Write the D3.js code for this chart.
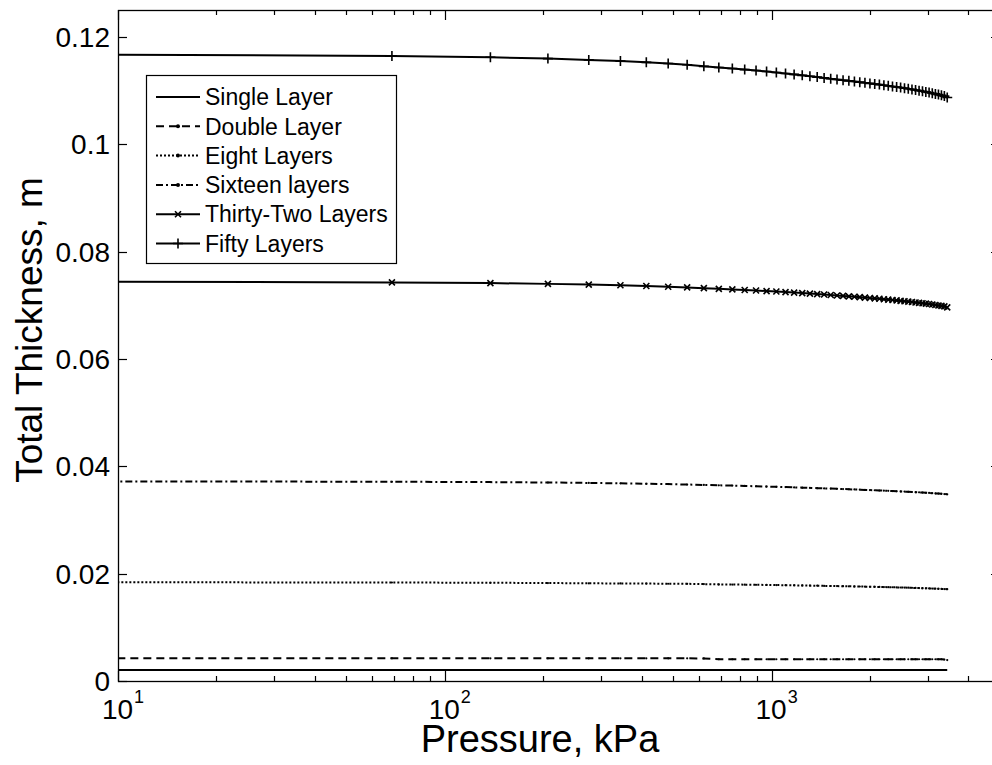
<!DOCTYPE html>
<meta charset="utf-8">
<title>Total Thickness vs Pressure</title>
<style>
  body { margin: 0; background: #fff; }
  svg { display: block; font-family: "Liberation Sans", Arial, sans-serif; }
  .lbl { font-size: 28px; fill: #000; }
  .sup { font-size: 18px; fill: #000; }
  .title { font-size: 38px; fill: #000; }
  .ytitle { font-size: 37px; fill: #000; }
  .leg { font-size: 23px; fill: #000; }
</style>
<body>
<svg id="chart" width="992" height="765"></svg>
<script src="https://cdn.jsdelivr.net/npm/d3@7"></script>
<script>

// pressure, kPa (10 psi steps, first point 1 psi)
var pressure = [6.9, 68.9, 137.9, 206.8, 275.8, 344.7, 413.7, 482.6, 551.6, 620.5,
  689.5, 758.4, 827.4, 896.3, 965.3, 1034.2, 1103.2, 1172.1, 1241.1, 1310.0,
  1379.0, 1447.9, 1516.8, 1585.8, 1654.7, 1723.7, 1792.6, 1861.6, 1930.5, 1999.5,
  2068.4, 2137.4, 2206.3, 2275.3, 2344.2, 2413.2, 2482.1, 2551.1, 2620.0, 2689.0,
  2757.9, 2826.9, 2895.8, 2964.8, 3033.7, 3102.6, 3171.6, 3240.5, 3309.5, 3378.4, 3447.4];

var single = [0.00205, 0.00205, 0.00205, 0.00205, 0.00205, 0.00205, 0.00205, 0.00205, 0.00205, 0.00205,
  0.00205, 0.00205, 0.00205, 0.00205, 0.00205, 0.00205, 0.00205, 0.00205, 0.00205, 0.00205,
  0.00205, 0.00205, 0.00205, 0.00205, 0.00205, 0.00205, 0.00205, 0.00205, 0.00205, 0.00205,
  0.00205, 0.00205, 0.00205, 0.00205, 0.00205, 0.00205, 0.00205, 0.00205, 0.00205, 0.00205,
  0.00205, 0.00205, 0.00205, 0.00205, 0.00205, 0.00205, 0.00205, 0.00205, 0.00205, 0.00205, 0.00205];

var double = [0.00422, 0.00422, 0.00422, 0.00422, 0.00422, 0.00422, 0.00422, 0.00422, 0.00422, 0.00420,
  0.00405, 0.00405, 0.00405, 0.00405, 0.00405, 0.00405, 0.00405, 0.00405, 0.00405, 0.00405,
  0.00405, 0.00405, 0.00405, 0.00405, 0.00405, 0.00405, 0.00405, 0.00405, 0.00405, 0.00405,
  0.00405, 0.00405, 0.00405, 0.00405, 0.00405, 0.00405, 0.00405, 0.00405, 0.00405, 0.00405,
  0.00405, 0.00405, 0.00405, 0.00405, 0.00405, 0.00405, 0.00405, 0.00405, 0.00405, 0.00400, 0.00390];

var eight = [0.01840, 0.01835, 0.01830, 0.01825, 0.01820, 0.01817, 0.01815, 0.01812, 0.01810, 0.01805,
  0.01800, 0.01797, 0.01795, 0.01792, 0.01790, 0.01787, 0.01785, 0.01782, 0.01780, 0.01777,
  0.01775, 0.01772, 0.01770, 0.01768, 0.01766, 0.01764, 0.01762, 0.01760, 0.01758, 0.01756,
  0.01754, 0.01752, 0.01750, 0.01748, 0.01746, 0.01744, 0.01742, 0.01740, 0.01738, 0.01735,
  0.01733, 0.01731, 0.01729, 0.01727, 0.01725, 0.01722, 0.01720, 0.01718, 0.01715, 0.01713, 0.01710];

var sixteen = [0.03720, 0.03712, 0.03705, 0.03698, 0.03690, 0.03682, 0.03675, 0.03668, 0.03660, 0.03652,
  0.03645, 0.03640, 0.03634, 0.03628, 0.03622, 0.03617, 0.03612, 0.03607, 0.03602, 0.03597,
  0.03592, 0.03588, 0.03584, 0.03580, 0.03576, 0.03572, 0.03568, 0.03564, 0.03560, 0.03556,
  0.03553, 0.03549, 0.03546, 0.03542, 0.03539, 0.03535, 0.03532, 0.03528, 0.03525, 0.03521,
  0.03518, 0.03514, 0.03510, 0.03507, 0.03503, 0.03499, 0.03495, 0.03491, 0.03487, 0.03483, 0.03478];

var thirtyTwo = [0.07440, 0.07425, 0.07412, 0.07398, 0.07385, 0.07372, 0.07358, 0.07345, 0.07332, 0.07318,
  0.07306, 0.07295, 0.07284, 0.07274, 0.07264, 0.07255, 0.07245, 0.07236, 0.07226, 0.07217,
  0.07208, 0.07199, 0.07190, 0.07182, 0.07174, 0.07166, 0.07158, 0.07150, 0.07142, 0.07134,
  0.07127, 0.07120, 0.07112, 0.07105, 0.07098, 0.07090, 0.07082, 0.07075, 0.07068, 0.07060,
  0.07052, 0.07045, 0.07037, 0.07030, 0.07022, 0.07013, 0.07005, 0.06996, 0.06987, 0.06978, 0.06960];

var fifty = [0.11670, 0.11645, 0.11620, 0.11595, 0.11570, 0.11548, 0.11525, 0.11502, 0.11480, 0.11450,
  0.11430, 0.11410, 0.11390, 0.11372, 0.11355, 0.11336, 0.11318, 0.11300, 0.11283, 0.11266,
  0.11250, 0.11235, 0.11220, 0.11205, 0.11192, 0.11180, 0.11168, 0.11156, 0.11144, 0.11133,
  0.11122, 0.11110, 0.11098, 0.11087, 0.11076, 0.11065, 0.11055, 0.11044, 0.11033, 0.11021,
  0.11010, 0.10998, 0.10986, 0.10974, 0.10962, 0.10950, 0.10937, 0.10924, 0.10910, 0.10896, 0.10870];

var seriesNames = ["Single Layer", "Double Layer", "Eight Layers", "Sixteen layers", "Thirty-Two Layers", "Fifty Layers"];
var seriesValues = [single, double, eight, sixteen, thirtyTwo, fifty];
var dashes = [null, "8,5", "2,2", "7,3,2,3", null, null];
var markers = ["none", "dot", "dot", "dot", "x", "plus"];

var yTicks = [0, 0.02, 0.04, 0.06, 0.08, 0.1, 0.12];
var yTickLabels = ["0", "0.02", "0.04", "0.06", "0.08", "0.1", "0.12"];
var xMajor = [10, 100, 1000];
var xMajorExp = ["1", "2", "3"];
var xMinor = [20, 30, 40, 50, 60, 70, 80, 90, 200, 300, 400, 500, 600, 700, 800, 900, 2000, 3000, 4000];

var pLeft = 118, pRight = 1000, pTop = 10, pBottom = 681;

var x = d3.scaleLog().domain([10, 5000]).range([pLeft, pRight]);
var y = d3.scaleLinear().domain([0, 0.125]).range([pBottom, pTop]);

var svg = d3.select("#chart");

svg.append("defs").append("clipPath").attr("id", "clip")
  .append("rect").attr("x", pLeft).attr("y", pTop).attr("width", pRight - pLeft).attr("height", pBottom - pTop);

// ticks
var tk = svg.append("g").attr("stroke", "#000").attr("stroke-width", 1.2);
yTicks.forEach(function(v) {
  var yy = Math.round(y(v)) + 0.5;
  tk.append("line").attr("x1", pLeft).attr("x2", pLeft + 9).attr("y1", yy).attr("y2", yy);
  tk.append("line").attr("x1", pRight).attr("x2", pRight - 9).attr("y1", yy).attr("y2", yy);
});
xMajor.forEach(function(v) {
  var xx = Math.round(x(v)) + 0.5;
  tk.append("line").attr("x1", xx).attr("x2", xx).attr("y1", pBottom).attr("y2", pBottom - 10);
  tk.append("line").attr("x1", xx).attr("x2", xx).attr("y1", pTop).attr("y2", pTop + 10);
});
xMinor.forEach(function(v) {
  var xx = Math.round(x(v)) + 0.5;
  tk.append("line").attr("x1", xx).attr("x2", xx).attr("y1", pBottom).attr("y2", pBottom - 5);
  tk.append("line").attr("x1", xx).attr("x2", xx).attr("y1", pTop).attr("y2", pTop + 5);
});

// box
svg.append("rect").attr("x", pLeft + 0.5).attr("y", pTop + 0.5)
  .attr("width", pRight - pLeft).attr("height", pBottom - pTop)
  .attr("fill", "none").attr("stroke", "#000").attr("stroke-width", 1.3);

// tick labels
yTicks.forEach(function(v, i) {
  svg.append("text").attr("class", "lbl")
    .attr("x", pLeft - 8).attr("y", y(v)).attr("dy", "0.36em")
    .attr("text-anchor", "end").text(yTickLabels[i]);
});
xMajor.forEach(function(v, i) {
  var t = svg.append("text").attr("class", "lbl")
    .attr("x", x(v) + 5).attr("y", 719).attr("text-anchor", "middle");
  t.append("tspan").text("10");
  t.append("tspan").attr("class", "sup").attr("dy", -16).attr("dx", 1).text(xMajorExp[i]);
});

// axis titles
svg.append("text").attr("class", "title")
  .attr("x", 540).attr("y", 752).attr("text-anchor", "middle")
  .text("Pressure, kPa");
svg.append("text").attr("class", "ytitle")
  .attr("transform", "translate(42,330) rotate(-90)")
  .attr("text-anchor", "middle")
  .text("Total Thickness, m");

function drawMarker(g, kind, cx, cy, r) {
  if (kind === "dot") {
    g.append("circle").attr("cx", cx).attr("cy", cy).attr("r", r).attr("fill", "#000");
  } else if (kind === "plus") {
    g.append("path").attr("d", "M" + (cx - 5) + "," + cy + "H" + (cx + 5) + "M" + cx + "," + (cy - 5) + "V" + (cy + 5))
      .attr("stroke", "#000").attr("stroke-width", 1.6).attr("fill", "none");
  } else if (kind === "x") {
    g.append("path").attr("d", "M" + (cx - 3) + "," + (cy - 3) + "L" + (cx + 3) + "," + (cy + 3) +
        "M" + (cx - 3) + "," + (cy + 3) + "L" + (cx + 3) + "," + (cy - 3))
      .attr("stroke", "#000").attr("stroke-width", 1.6).attr("fill", "none");
  }
}

// series
var plot = svg.append("g").attr("clip-path", "url(#clip)");
var line = d3.line().x(function(d) { return x(d[0]); }).y(function(d) { return y(d[1]); });

seriesValues.forEach(function(vals, si) {
  var pts = pressure.map(function(p, i) { return [p, vals[i]]; });
  plot.append("path").datum(pts).attr("d", line)
    .attr("fill", "none").attr("stroke", "#000").attr("stroke-width", 2)
    .attr("stroke-dasharray", dashes[si]);
  pts.forEach(function(d) {
    if (d[0] >= 10) drawMarker(plot, markers[si], x(d[0]), y(d[1]), 1.1);
  });
});

// legend
var lg = svg.append("g");
lg.append("rect").attr("x", 146.5).attr("y", 75.5).attr("width", 250).attr("height", 188)
  .attr("fill", "#fff").attr("stroke", "#000").attr("stroke-width", 1.2);
seriesNames.forEach(function(name, i) {
  var yy = 97 + i * 29.3;
  lg.append("line").attr("x1", 156).attr("x2", 200).attr("y1", yy).attr("y2", yy)
    .attr("stroke", "#000").attr("stroke-width", 2).attr("stroke-dasharray", dashes[i]);
  drawMarker(lg, markers[i], 178, yy, 2);
  lg.append("text").attr("class", "leg").attr("x", 205).attr("y", yy).attr("dy", "0.36em").text(name);
});
</script>
</body>
